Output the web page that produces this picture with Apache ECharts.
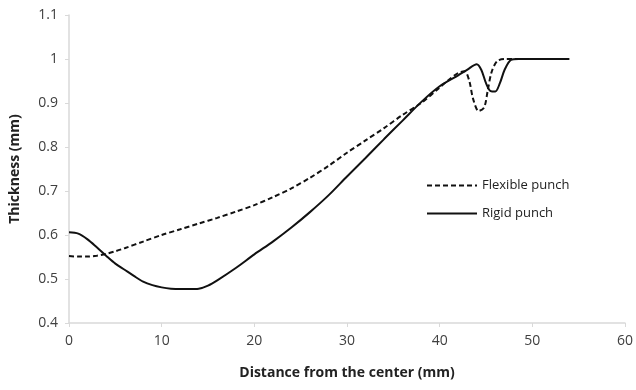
<!DOCTYPE html>
<html>
<head>
<meta charset="utf-8">
<script src="https://cdn.jsdelivr.net/npm/echarts@6/dist/echarts.min.js"></script>
<style>html,body{margin:0;padding:0;background:#fff;}#c{width:636px;height:390px;}</style>
</head>
<body>
<div id="c"></div>
<script>
var xTicks = [0, 10, 20, 30, 40, 50, 60];
var yTicks = [0.4, 0.5, 0.6, 0.7, 0.8, 0.9, 1, 1.1];

var flexX = [0, 1, 2, 3, 4, 5, 6, 8, 10, 12, 14, 16, 18, 20, 22, 24, 26, 28, 30, 32, 34, 36, 38, 40, 41, 42, 42.7, 43.2, 43.6, 44.2, 44.8, 45.2, 45.6, 46.2, 47, 48, 50, 54];
var flexY = [0.552, 0.551, 0.551, 0.553, 0.557, 0.563, 0.57, 0.585, 0.6, 0.613, 0.626, 0.639, 0.653, 0.668, 0.686, 0.706, 0.73, 0.757, 0.787, 0.815, 0.843, 0.873, 0.9, 0.935, 0.953, 0.968, 0.972, 0.95, 0.91, 0.882, 0.89, 0.93, 0.97, 0.995, 1.0, 1.0, 1.0, 1.0];

var rigidX = [0, 1, 2, 3, 4, 5, 6, 7, 8, 9, 10, 11, 12, 13, 14, 15, 16, 18, 20, 22, 24, 26, 28, 30, 32, 34, 36, 38, 40, 42, 43, 44, 44.5, 45, 45.5, 46, 46.5, 47, 47.7, 48.5, 50, 54];
var rigidY = [0.606, 0.603, 0.59, 0.572, 0.553, 0.535, 0.521, 0.507, 0.494, 0.486, 0.481, 0.478, 0.477, 0.477, 0.478, 0.485, 0.497, 0.525, 0.556, 0.585, 0.617, 0.652, 0.69, 0.733, 0.775, 0.818, 0.86, 0.902, 0.938, 0.963, 0.976, 0.988, 0.975, 0.945, 0.927, 0.926, 0.945, 0.975, 0.998, 1.0, 1.0, 1.0];

function pairs(xs, ys) { return xs.map(function (x, i) { return [x, ys[i]]; }); }

var chart = echarts.init(document.getElementById('c'));
var font = '"Open Sans", sans-serif';
chart.setOption({
  animation: false,
  textStyle: { fontFamily: font },
  grid: { left: 69, right: 9, top: 15, bottom: 67 },
  legend: {
    orient: 'vertical',
    left: 421, top: 174,
    itemWidth: 50, itemHeight: 10, itemGap: 15,
    itemStyle: { opacity: 0 },
    textStyle: { fontFamily: font, fontSize: 13, color: '#222' },
    data: ['Flexible punch', 'Rigid punch']
  },
  xAxis: {
    type: 'value', min: xTicks[0], max: xTicks[xTicks.length - 1], interval: 10,
    name: 'Distance from the center (mm)', nameLocation: 'middle', nameGap: 43,
    nameTextStyle: { fontFamily: font, fontWeight: 'bold', fontSize: 14, color: '#222' },
    axisLine: { lineStyle: { color: '#d9d9d9', width: 1.5 } },
    axisTick: { show: true, length: 4, lineStyle: { color: '#d9d9d9' } },
    axisLabel: { fontSize: 14, color: '#404040', margin: 11 },
    splitLine: { show: false }
  },
  yAxis: {
    type: 'value', min: yTicks[0], max: yTicks[yTicks.length - 1], interval: 0.1,
    name: 'Thickness (mm)', nameLocation: 'middle', nameGap: 47,
    nameTextStyle: { fontFamily: font, fontWeight: 'bold', fontSize: 14, color: '#222' },
    axisLine: { show: true, lineStyle: { color: '#d9d9d9', width: 1.5 } },
    axisTick: { show: true, length: 4, lineStyle: { color: '#d9d9d9' } },
    axisLabel: { fontSize: 14, color: '#404040', margin: 11,
      formatter: function (v) { return String(Math.round(v * 10) / 10); } },
    splitLine: { show: false }
  },
  series: [
    { name: 'Flexible punch', type: 'line', data: pairs(flexX, flexY), smooth: 0.3,
      showSymbol: false, symbol: 'none',
      lineStyle: { color: '#111', width: 2, type: [5, 3] }, itemStyle: { color: '#111' } },
    { name: 'Rigid punch', type: 'line', data: pairs(rigidX, rigidY), smooth: 0.3,
      showSymbol: false, symbol: 'none',
      lineStyle: { color: '#111', width: 2, type: 'solid' }, itemStyle: { color: '#111' } }
  ]
});
</script>
</body>
</html>
